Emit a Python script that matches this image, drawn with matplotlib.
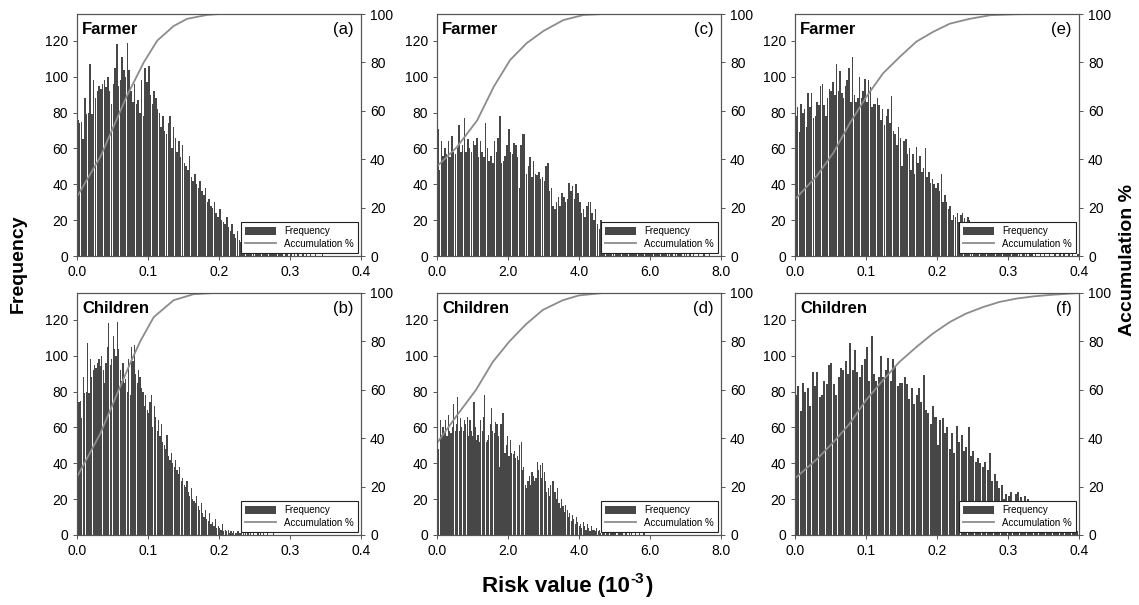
import numpy as np
import matplotlib
matplotlib.use('Agg')
import matplotlib.pyplot as plt
from matplotlib.ticker import FormatStrFormatter, MultipleLocator
from matplotlib.patches import Patch
from matplotlib.lines import Line2D

plt.rcParams['font.family'] = ['Liberation Sans', 'DejaVu Sans']

# frequency per bin (same sample sets for the two panels of a column)
freq_ab = [76, 74, 75, 65, 88, 79, 80, 107, 79, 98,
           88, 92, 95, 93, 96, 98, 94, 100, 92, 85,
           96, 105, 118, 95, 98, 111, 104, 100, 119, 104,
           92, 86, 96, 85, 87, 80, 98, 78, 105, 97,
           106, 90, 85, 92, 88, 82, 80, 72, 78, 70,
           68, 74, 78, 60, 72, 66, 58, 64, 55, 62,
           52, 50, 48, 56, 44, 42, 46, 40, 38, 42,
           36, 34, 38, 30, 32, 28, 27, 30, 24, 22,
           26, 20, 19, 18, 22, 16, 14, 18, 12, 10,
           14, 9, 8, 12, 6, 7, 5, 9, 4, 5,
           4, 3, 6, 2, 3, 2, 3, 1, 2, 1,
           2, 1, 1, 2, 1, 1, 0, 1, 1, 0,
           1, 0, 1, 0, 1, 0, 0, 1, 0, 1,
           0, 1, 0, 0, 1, 0, 0, 0, 1, 0]

freq_cd = [71, 48, 64, 56, 60, 57, 64, 55, 67, 58,
           57, 60, 73, 58, 62, 77, 58, 65, 60, 58,
           64, 62, 66, 55, 64, 58, 55, 74, 60, 53,
           56, 52, 64, 58, 66, 78, 52, 53, 56, 62,
           71, 58, 57, 63, 62, 55, 38, 62, 68, 68,
           46, 50, 55, 44, 53, 46, 45, 47, 43, 44,
           42, 50, 52, 36, 38, 28, 26, 30, 33, 28,
           35, 33, 30, 32, 41, 36, 39, 32, 40, 35,
           30, 24, 26, 22, 28, 30, 30, 24, 20, 26,
           18, 15, 20, 16, 13, 17, 14, 10, 12, 8,
           11, 9, 6, 10, 7, 5, 6, 4, 7, 5,
           3, 6, 4, 2, 5, 3, 3, 2, 4, 2,
           3, 1, 2, 3, 1, 2, 2, 1, 2, 1,
           1, 2, 1, 0, 1, 1, 1, 1, 0, 1,
           1, 0, 1, 0, 1, 0, 0, 1, 0, 0,
           1, 0, 0, 1, 0, 0]

freq_ef = [78, 83, 69, 85, 80, 82, 72, 91, 83, 91,
           77, 78, 86, 84, 95, 96, 84, 78, 88, 93,
           92, 97, 90, 107, 92, 103, 91, 88, 95, 98,
           105, 86, 111, 90, 86, 88, 100, 88, 92, 99,
           86, 98, 94, 83, 85, 85, 88, 84, 76, 82,
           73, 78, 82, 74, 89, 70, 68, 62, 72, 66,
           50, 64, 65, 57, 60, 48, 57, 46, 61, 52,
           56, 47, 49, 60, 44, 47, 41, 43, 40, 38,
           41, 36, 46, 30, 34, 30, 26, 28, 20, 23,
           22, 24, 19, 23, 24, 21, 18, 22, 20, 16,
           18, 14, 15, 12, 13, 10, 11, 8, 9, 7,
           8, 6, 7, 5, 4, 6, 3, 4, 3, 2,
           2, 1, 1, 2, 1, 1, 1, 0, 1, 1,
           1, 0, 1, 1, 0, 1, 0, 0, 1, 0,
           1, 0, 0, 1, 0, 0, 1, 0, 0, 1,
           0, 1, 0, 0, 1, 0, 1, 0, 0, 1]

# accumulation % curves
acc_x_a = [0, 0.033, 0.070, 0.094, 0.113, 0.136, 0.155, 0.183, 0.2, 0.4]
acc_y_a = [24.5, 41, 66, 80, 89, 95, 98, 99.6, 100, 100]
acc_x_b = [0, 0.033, 0.056, 0.075, 0.089, 0.108, 0.136, 0.164, 0.193, 0.4]
acc_y_b = [24, 42, 58, 71, 80, 90, 97, 99.5, 100, 100]
acc_x_c = [0, 0.56, 1.13, 1.6, 2.06, 2.53, 3.0, 3.56, 4.13, 4.69, 8.0]
acc_y_c = [37, 45, 56, 70, 81, 88, 93, 97.5, 99.6, 100, 100]
acc_x_d = [0, 0.54, 1.1, 1.57, 2.04, 2.5, 2.98, 3.54, 4.0, 4.67, 8.0]
acc_y_d = [38, 49, 60, 71.5, 80, 87, 93, 97, 99, 100, 100]
acc_x_e = [0, 0.0305, 0.054, 0.0775, 0.101, 0.124, 0.148, 0.171, 0.195,
           0.218, 0.246, 0.275, 0.312, 0.34, 0.4]
acc_y_e = [23.4, 33, 42.6, 55, 66, 75.5, 82.4, 88.6, 92.7, 96, 98, 99.5,
           99.9, 100, 100]
acc_x_f = [0, 0.0296, 0.053, 0.077, 0.1, 0.124, 0.147, 0.171, 0.194, 0.218,
           0.241, 0.265, 0.288, 0.312, 0.336, 0.359, 0.4]
acc_y_f = [23.4, 31, 38, 46, 55.7, 64, 71.5, 77.7, 83.2, 88, 91.5, 94.2,
           96.3, 97.7, 98.6, 99.2, 100]

panels = [
    # label, group, freq, bin width, xmax, acc x, acc y
    ('(a)', 'Farmer', freq_ab, 0.0025, 0.4, acc_x_a, acc_y_a),
    ('(b)', 'Children', freq_ab, 0.002, 0.4, acc_x_b, acc_y_b),
    ('(c)', 'Farmer', freq_cd, 0.05, 8.0, acc_x_c, acc_y_c),
    ('(d)', 'Children', freq_cd, 0.038, 8.0, acc_x_d, acc_y_d),
    ('(e)', 'Farmer', freq_ef, 0.0025, 0.4, acc_x_e, acc_y_e),
    ('(f)', 'Children', freq_ef, 0.00333, 0.4, acc_x_f, acc_y_f),
]

W, H = 1139, 605
fig = plt.figure(figsize=(W / 100, H / 100), dpi=100)

lefts = [77, 437, 795]
tops = [14, 293]
aw, ah = 284, 242

bar_col = '#474747'
line_col = '#8c8c8c'
spine_col = '#555555'

for k, (lab, grp, freq, bw, xmax, ax_x, ax_y) in enumerate(panels):
    col, row = k // 2, k % 2
    l = lefts[col] / W
    b = 1 - (tops[row] + ah) / H
    ax = fig.add_axes([l, b, aw / W, ah / H])
    edges = np.arange(len(freq)) * bw
    ax.bar(edges, freq, width=bw * 0.85, align='edge', color=bar_col,
           linewidth=0)
    ax.set_xlim(0, xmax)
    ax.set_ylim(0, 135)
    ax.yaxis.set_major_locator(MultipleLocator(20))
    ax.xaxis.set_major_locator(MultipleLocator(xmax / 4))
    ax.xaxis.set_major_formatter(FormatStrFormatter('%.1f'))
    ax.tick_params(labelsize=10, length=3, width=0.7, color=spine_col)

    ax2 = ax.twinx()
    ax2.plot(ax_x, ax_y, color=line_col, lw=1.3)
    ax2.set_ylim(0, 100)
    ax2.yaxis.set_major_locator(MultipleLocator(20))
    ax2.tick_params(labelsize=10, length=3, width=0.7, color=spine_col)
    for a in (ax, ax2):
        for s in a.spines.values():
            s.set_color(spine_col)
            s.set_linewidth(0.8)

    ax.text(0.018, 0.965, grp, transform=ax.transAxes, ha='left', va='top',
            fontsize=12, fontweight='bold')
    ax.text(0.975, 0.965, lab, transform=ax.transAxes, ha='right', va='top',
            fontsize=12)

    handles = [Patch(facecolor=bar_col, edgecolor='none'),
               Line2D([], [], color=line_col, lw=1.3)]
    leg = ax2.legend(handles, ['Frequency', 'Accumulation %'],
                     loc='lower right', fontsize=7, handlelength=3.2,
                     fancybox=False, framealpha=1, borderaxespad=0.35,
                     handleheight=0.8, labelspacing=0.25)
    leg.get_frame().set_edgecolor('#222222')
    leg.get_frame().set_linewidth(0.8)

fig.text(18 / W, 1 - 264 / H, 'Frequency', rotation=90, ha='center',
         va='center', fontsize=14, fontweight='bold')
fig.text(1127 / W, 1 - 260 / H, 'Accumulation %', rotation=90, ha='center',
         va='center', fontsize=14, fontweight='bold')

# x label with a plain hyphen in the superscript, centred at x=567 px
base_y = 1 - 592 / H
t1 = fig.text(0, base_y, 'Risk value (10', ha='left', va='baseline',
              fontsize=16, fontweight='bold')
t2 = fig.text(0, base_y, '-3', ha='left', va='baseline', fontsize=11,
              fontweight='bold')
t3 = fig.text(0, base_y, ')', ha='left', va='baseline', fontsize=16,
              fontweight='bold')
fig.canvas.draw()
w1 = t1.get_window_extent().width
w2 = t2.get_window_extent().width
w3 = t3.get_window_extent().width
x0 = 567 - (w1 + w2 + w3 + 1) / 2
t1.set_x(x0 / W)
t2.set_x((x0 + w1) / W)
t2.set_y(base_y + 9 / H)
t3.set_x((x0 + w1 + w2 + 1) / W)

fig.savefig('out.png', dpi=100)
